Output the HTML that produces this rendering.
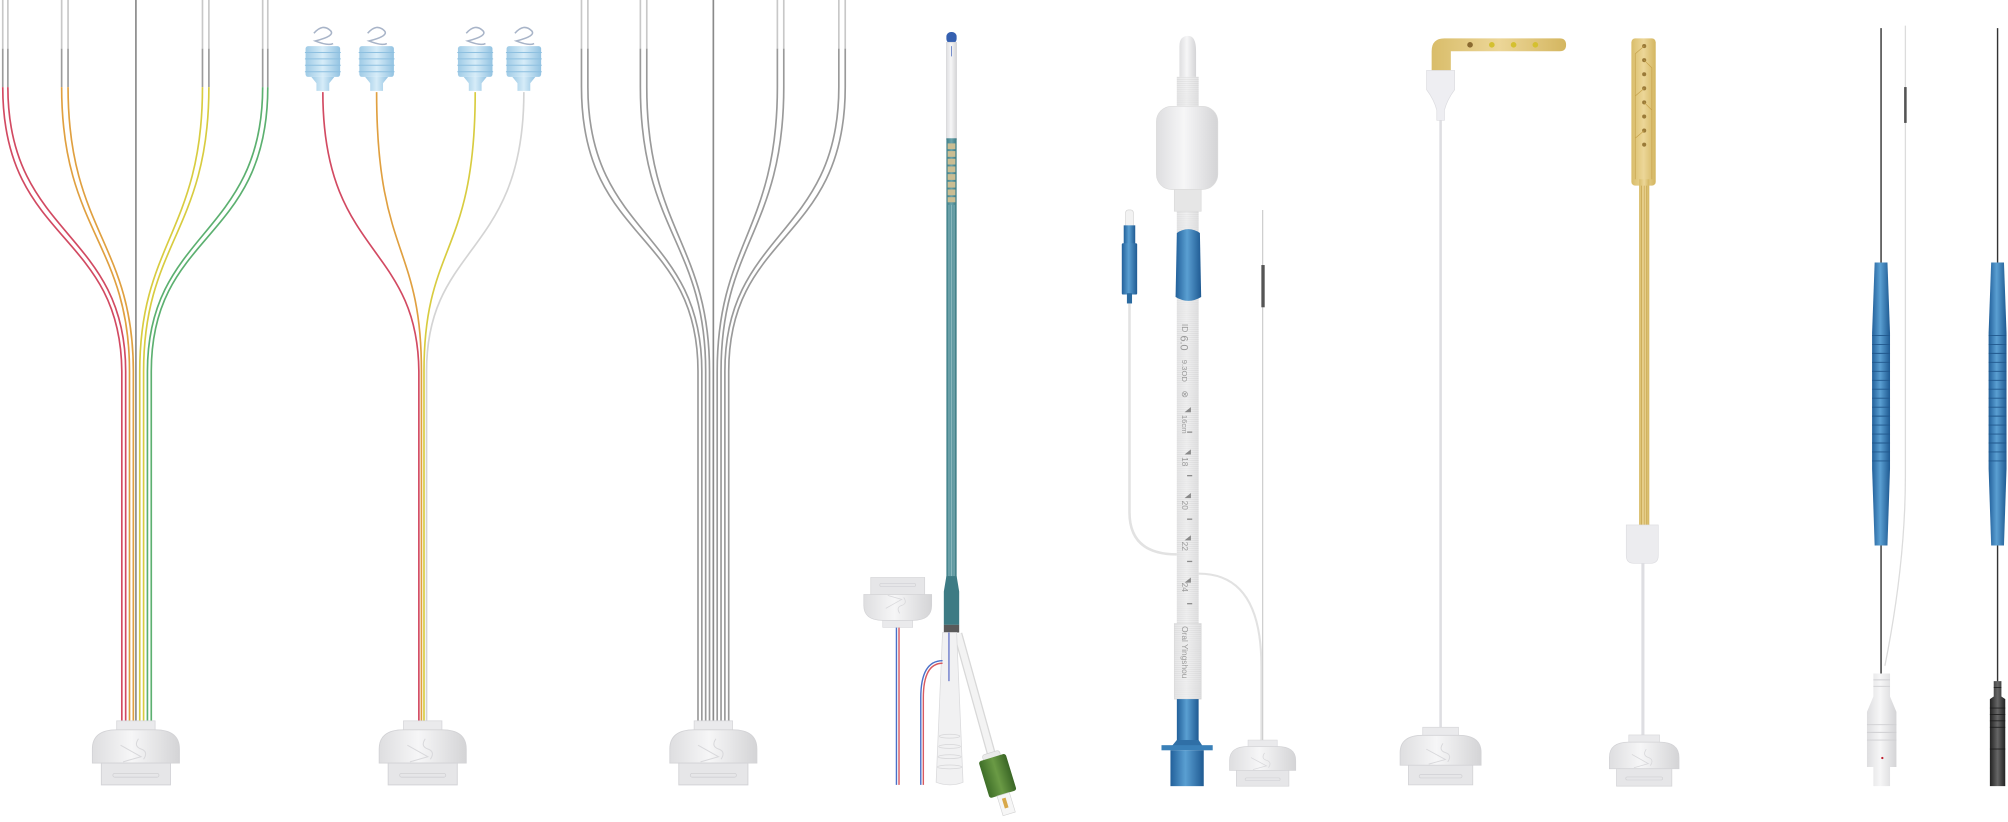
<!DOCTYPE html>
<html><head><meta charset="utf-8"><style>
html,body{margin:0;padding:0;background:#fff;}
svg{display:block;}
text{font-family:"Liberation Sans",sans-serif;}
</style></head><body>
<svg width="2008" height="822" viewBox="0 0 1568 642" xmlns="http://www.w3.org/2000/svg">
<defs>
<linearGradient id="wg" x1="0" x2="1"><stop offset="0" stop-color="#dedee0"/><stop offset=".45" stop-color="#f6f6f7"/><stop offset="1" stop-color="#d4d4d6"/></linearGradient>
<linearGradient id="bg" x1="0" x2="1"><stop offset="0" stop-color="#22609a"/><stop offset=".45" stop-color="#5a9fd2"/><stop offset="1" stop-color="#1f5a92"/></linearGradient>
<linearGradient id="lbg" x1="0" x2="1"><stop offset="0" stop-color="#9fcbe6"/><stop offset=".5" stop-color="#d6ecf8"/><stop offset="1" stop-color="#93c3e2"/></linearGradient>
<linearGradient id="gg" x1="0" x2="1"><stop offset="0" stop-color="#3e6e28"/><stop offset=".5" stop-color="#6a9a45"/><stop offset="1" stop-color="#3a6626"/></linearGradient>
<linearGradient id="kg" x1="0" x2="1"><stop offset="0" stop-color="#222"/><stop offset=".5" stop-color="#666"/><stop offset="1" stop-color="#222"/></linearGradient>
<linearGradient id="tg" x1="0" x2="1"><stop offset="0" stop-color="#3f7f88"/><stop offset=".5" stop-color="#6aa3ab"/><stop offset="1" stop-color="#3a7880"/></linearGradient>
<linearGradient id="au" x1="0" x2="1"><stop offset="0" stop-color="#d9bd6a"/><stop offset=".5" stop-color="#ecd698"/><stop offset="1" stop-color="#d4b660"/></linearGradient>
<pattern id="rib" width="4" height="1.6" patternUnits="userSpaceOnUse"><rect width="4" height="1.6" fill="#ececec"/><rect y="1.1" width="4" height=".5" fill="#d4d4d4"/></pattern>
<pattern id="ribb" width="4" height="1.6" patternUnits="userSpaceOnUse"><rect width="4" height="1.6" fill="#3a7fb8"/><rect y="1.1" width="4" height=".5" fill="#2a6aa0"/></pattern>
<g id="conn">
 <rect x="-15" y="0" width="30" height="9" fill="#eaeaec" stroke="#d6d6d9" stroke-width=".6"/>
 <path d="M-34 33 L-34 22 Q-34 7 -15 7 L15 7 Q34 7 34 22 L34 33 Z" fill="url(#wg)" stroke="#d3d3d6" stroke-width=".7"/>
 <path d="M-27 33 L27 33 L27 50 L-27 50 Z" fill="#e6e6e8" stroke="#d3d3d6" stroke-width=".7"/>
 <rect x="-18" y="41" width="36" height="3" rx="1.5" fill="none" stroke="#d0d0d3" stroke-width=".6"/>
 <path d="M-12 19 L4 28 L-10 32 M2 14 Q-2 20 4 22 Q10 24 6 30" fill="none" stroke="#d8d8db" stroke-width=".8"/>
</g>
<g id="bulb">
 <path d="M-7 -22 Q0 -30 6 -24 Q10 -20 -6 -16 Q4 -12 8 -14" fill="none" stroke="#a8b4c8" stroke-width="1.2"/>
 <rect x="-13.5" y="-12" width="27" height="24" rx="2" fill="url(#lbg)"/>
 <g stroke="#8ec0e0" stroke-width=".8"><line x1="-14" y1="-7" x2="14" y2="-7"/><line x1="-14" y1="-2" x2="14" y2="-2"/><line x1="-14" y1="3" x2="14" y2="3"/><line x1="-14" y1="8" x2="14" y2="8"/></g>
 <path d="M-9 12 L9 12 L5 17 L5 23 L-5 23 L-5 17 Z" fill="url(#lbg)"/>
</g>
</defs>

<!-- ===== Group 1 ===== -->
<g fill="none" stroke-width="1.3">
 <g stroke="#c8c8c8"><line x1="2" y1="0" x2="2" y2="38"/><line x1="6" y1="0" x2="6" y2="38"/><line x1="48" y1="0" x2="48" y2="38"/><line x1="53" y1="0" x2="53" y2="38"/><line x1="158" y1="0" x2="158" y2="38"/><line x1="163" y1="0" x2="163" y2="38"/><line x1="205" y1="0" x2="205" y2="38"/><line x1="209" y1="0" x2="209" y2="38"/></g>
 <g stroke="#9c9c9c"><line x1="2" y1="38" x2="2" y2="68"/><line x1="6" y1="38" x2="6" y2="68"/><line x1="48" y1="38" x2="48" y2="68"/><line x1="53" y1="38" x2="53" y2="68"/><line x1="158" y1="38" x2="158" y2="68"/><line x1="163" y1="38" x2="163" y2="68"/><line x1="205" y1="38" x2="205" y2="68"/><line x1="209" y1="38" x2="209" y2="68"/></g>
 <line x1="106" y1="0" x2="106" y2="565" stroke="#8a8a8a"/>
 <path d="M2 68 C2 190 94 180 95 290 L95 565" stroke="#d24a62"/>
 <path d="M6 68 C6 185 98 180 98 290 L98 565" stroke="#d24a62"/>
 <path d="M48 68 C48 180 101 190 101 290 L101 565" stroke="#e0a040"/>
 <path d="M53 68 C53 180 104 190 104 290 L104 565" stroke="#e0a040"/>
 <path d="M158 68 C158 180 109 190 109 290 L109 565" stroke="#d8cc40"/>
 <path d="M163 68 C163 180 112 190 112 290 L112 565" stroke="#d8cc40"/>
 <path d="M205 68 C205 185 115 180 115 290 L115 565" stroke="#5cb070"/>
 <path d="M209 68 C209 190 118 180 118 290 L118 565" stroke="#5cb070"/>
</g>
<use href="#conn" transform="translate(106,563)"/>

<!-- ===== Group 2 ===== -->
<g fill="none" stroke-width="1.3">
 <path d="M252 72 C252 200 326 190 327 290 L327 565" stroke="#d24a62"/>
 <path d="M294 72 C294 200 329 190 329 290 L329 565" stroke="#e0a040"/>
 <path d="M371 72 C371 200 331 190 331 290 L331 565" stroke="#d8cc40"/>
 <path d="M409 72 C409 200 333 190 333 290 L333 565" stroke="#d4d4d4"/>
</g>
<use href="#bulb" transform="translate(252,48)"/>
<use href="#bulb" transform="translate(294,48)"/>
<use href="#bulb" transform="translate(371,48)"/>
<use href="#bulb" transform="translate(409,48)"/>
<use href="#conn" transform="translate(330,563)"/>

<!-- ===== Group 3 ===== -->
<g fill="none" stroke-width="1.3">
 <g stroke="#c8c8c8"><line x1="454" y1="0" x2="454" y2="38"/><line x1="459" y1="0" x2="459" y2="38"/><line x1="500" y1="0" x2="500" y2="38"/><line x1="505" y1="0" x2="505" y2="38"/><line x1="607" y1="0" x2="607" y2="38"/><line x1="612" y1="0" x2="612" y2="38"/><line x1="655" y1="0" x2="655" y2="38"/><line x1="660" y1="0" x2="660" y2="38"/></g>
 <line x1="557" y1="0" x2="557" y2="565" stroke="#8a8a8a"/>
 <g stroke="#9a9a9a">
 <path d="M454 38 L454 68 C454 190 545 180 545 290 L545 565"/>
 <path d="M459 38 L459 68 C459 185 548 180 548 290 L548 565"/>
 <path d="M500 38 L500 68 C500 180 551 190 551 290 L551 565"/>
 <path d="M505 38 L505 68 C505 180 554 190 554 290 L554 565"/>
 <path d="M607 38 L607 68 C607 180 560 190 560 290 L560 565"/>
 <path d="M612 38 L612 68 C612 180 563 190 563 290 L563 565"/>
 <path d="M655 38 L655 68 C655 185 566 180 566 290 L566 565"/>
 <path d="M660 38 L660 68 C660 190 569 180 569 290 L569 565"/>
 </g>
</g>
<use href="#conn" transform="translate(557,563)"/>

<!-- ===== Group 4 catheter ===== -->
<rect x="739" y="25" width="8" height="9" rx="3.5" fill="#3560b0"/>
<rect x="739" y="33" width="8" height="76" fill="url(#wg)" stroke="#d6d6d8" stroke-width=".5"/>
<line x1="743" y1="36" x2="743" y2="44" stroke="#5070c0" stroke-width=".6"/>
<rect x="739" y="108" width="8" height="344" fill="url(#tg)"/>
<g stroke="#a9cbd0" stroke-width=".4"><line x1="741" y1="160" x2="741" y2="450"/><line x1="743" y1="160" x2="743" y2="450"/><line x1="745" y1="160" x2="745" y2="450"/></g>
<g fill="#cbbd92">
 <rect x="740" y="112" width="6" height="4.5"/><rect x="740" y="118" width="6" height="4.5"/><rect x="740" y="124" width="6" height="4.5"/><rect x="740" y="130" width="6" height="4.5"/><rect x="740" y="136" width="6" height="4.5"/><rect x="740" y="142" width="6" height="4.5"/><rect x="740" y="148" width="6" height="4.5"/><rect x="740" y="154" width="6" height="4"/>
</g>
<path d="M739 450 L747 450 L749 462 L749 488 L737 488 L737 462 Z" fill="#3d7b84"/>
<rect x="737" y="488" width="12" height="6" fill="#5a5a5a"/>
<!-- angled tube -->
<line x1="748" y1="495" x2="775" y2="592" stroke="#d8d8d8" stroke-width="7"/>
<line x1="748" y1="495" x2="775" y2="592" stroke="#f3f3f3" stroke-width="5"/>
<!-- funnel -->
<path d="M736 494 L747 494 L752 611 Q742 615 731 611 Z" fill="#f1f1f2" stroke="#dadadc" stroke-width=".6"/>
<g fill="none" stroke="#d6d6d8" stroke-width=".6"><ellipse cx="741.5" cy="575" rx="8" ry="1.5"/><ellipse cx="741.5" cy="583" rx="8.5" ry="1.5"/><ellipse cx="741.5" cy="591" rx="9" ry="1.5"/><ellipse cx="741.5" cy="599" rx="9.5" ry="1.5"/></g>
<line x1="741" y1="494" x2="741" y2="532" stroke="#6070c8" stroke-width="1"/>
<!-- green -->
<g transform="translate(779,606) rotate(-17)">
 <rect x="-7" y="-19" width="14" height="5" rx="2" fill="#eaeaea" stroke="#d0d0d0" stroke-width=".5"/>
 <rect x="-11" y="-15" width="22" height="30" rx="2" fill="url(#gg)"/>
 <rect x="-5" y="15" width="10" height="16" fill="#f6f6f6" stroke="#d4d4d4" stroke-width=".5"/>
 <rect x="-2" y="18" width="3" height="8" fill="#d8a84a"/>
</g>
<!-- red/blue cables -->
<g fill="none" stroke-width="1.1">
 <line x1="700" y1="490" x2="700" y2="613" stroke="#4a70c8"/>
 <line x1="702" y1="490" x2="702" y2="613" stroke="#d85a60"/>
 <path d="M736 516 Q719 516 719 545 L719 613" stroke="#4a70c8"/>
 <path d="M736 518 Q721 518 721 545 L721 613" stroke="#d85a60"/>
</g>
<g transform="translate(701,490) scale(0.78,-0.78)"><use href="#conn" transform="translate(0,0)"/></g>

<!-- ===== Group 5 ET tube ===== -->
<path d="M882 237 L882 400 Q882 433 919 433" fill="none" stroke="#e2e2e2" stroke-width="2"/>
<path d="M936 448 Q985 448 985 520 L985 580" fill="none" stroke="#e2e2e2" stroke-width="1.6"/>
<line x1="986" y1="164" x2="986" y2="580" stroke="#cfcfcf" stroke-width="1"/>
<rect x="985" y="207" width="2.6" height="33" fill="#555"/>
<!-- pilot -->
<rect x="879" y="164" width="6" height="14" rx="2" fill="#f2f2f2" stroke="#d0d0d0" stroke-width=".5"/>
<rect x="877.5" y="176" width="9" height="20" fill="url(#bg)"/>
<rect x="876" y="190" width="12" height="40" rx="1" fill="url(#bg)"/>
<rect x="880" y="229" width="4" height="8" fill="#2a6aa0"/>
<!-- tube -->
<path d="M921 83 L921 36 Q921 28 928 28 Q934 28 934 40 L934 83 Z" fill="url(#wg)"/>
<rect x="919" y="60" width="17" height="430" fill="url(#rib)"/>
<rect x="919" y="60" width="17" height="430" fill="url(#wg)" opacity=".45"/>
<rect x="903" y="83" width="48" height="65" rx="12" fill="url(#wg)" stroke="#dcdcdc" stroke-width=".5"/>
<rect x="917" y="148" width="21" height="17" fill="#e6e6e6" stroke="#dadada" stroke-width=".5"/>
<path d="M919 182 Q928 176 937 182 L938 232 Q928 238 918 232 Z" fill="url(#bg)"/>
<g fill="#9a9a9a" font-size="6.5">
 <text transform="translate(923,253) rotate(90)">ID</text>
 <text transform="translate(922,262) rotate(90)" font-size="8.5">6.0</text>
 <text transform="translate(923,281) rotate(90)" font-size="6">9.3OD</text>
 <text transform="translate(923,305) rotate(90)" font-size="7">⊗</text>
 <text transform="translate(923,324) rotate(90)" font-size="6">16cm</text>
 <text transform="translate(923,357) rotate(90)">18</text>
 <text transform="translate(923,391) rotate(90)">20</text>
 <text transform="translate(923,423) rotate(90)">22</text>
 <text transform="translate(923,455) rotate(90)">24</text>
</g>
<g fill="#8a8a8a">
 <path d="M925 322 L930 322 L930 318 Z"/><path d="M925 355 L930 355 L930 351 Z"/><path d="M925 389 L930 389 L930 385 Z"/><path d="M925 422 L930 422 L930 418 Z"/><path d="M925 455 L930 455 L930 451 Z"/>
 <rect x="927" y="337" width="4" height="1"/><rect x="927" y="371" width="4" height="1"/><rect x="927" y="405" width="4" height="1"/><rect x="927" y="438" width="4" height="1"/><rect x="927" y="471" width="4" height="1"/>
</g>
<rect x="917" y="487" width="21" height="59" fill="url(#rib)" stroke="#d6d6d6" stroke-width=".5"/>
<rect x="917" y="487" width="21" height="59" fill="url(#wg)" opacity=".5"/>
<text transform="translate(923,489) rotate(90)" font-size="6.5" fill="#9a9a9a">Oral Yingshou</text>
<rect x="919" y="546" width="17" height="38" fill="url(#bg)"/>
<path d="M919 578 L914 584 L940 584 L936 578 Z" fill="#2f6fa6"/>
<rect x="907" y="582" width="40" height="4" fill="#3a80b8"/>
<rect x="914" y="586" width="26" height="28" fill="url(#bg)"/>
<use href="#conn" transform="translate(986,578) scale(0.76,0.72)"/>

<!-- ===== Group 6 ===== -->
<line x1="1125" y1="94" x2="1125" y2="572" stroke="#dedee2" stroke-width="2"/>
<path d="M1118 57 L1118 40 Q1118 30 1128 30 L1218 30 Q1223 30 1223 35 Q1223 40 1218 40 L1133 40 L1133 57 Z" fill="url(#au)"/>
<g><circle cx="1148" cy="35" r="2.2" fill="#8a6a30"/><circle cx="1165" cy="35" r="2.2" fill="#d4c030"/><circle cx="1182" cy="35" r="2.2" fill="#d4c030"/><circle cx="1199" cy="35" r="2.2" fill="#d4c030"/></g>
<path d="M1114 55 L1136 55 L1136 70 Q1130 78 1128 86 L1128 94 L1122 94 L1122 86 Q1120 78 1114 70 Z" fill="#eeeef2" stroke="#dcdce0" stroke-width=".5"/>
<use href="#conn" transform="translate(1125,568) scale(0.93,0.9)"/>

<!-- gold strip -->
<rect x="1274" y="30" width="19" height="115" rx="3" fill="url(#au)"/>
<rect x="1280" y="140" width="8" height="272" fill="url(#au)"/>
<g stroke="#c4a048" stroke-width=".5"><line x1="1282" y1="145" x2="1282" y2="410"/><line x1="1284" y1="145" x2="1284" y2="410"/><line x1="1286" y1="145" x2="1286" y2="410"/></g>
<g fill="#9a7a38"><circle cx="1284" cy="36" r="1.6"/><circle cx="1284" cy="47" r="1.6"/><circle cx="1284" cy="58" r="1.6"/><circle cx="1284" cy="69" r="1.6"/><circle cx="1284" cy="80" r="1.6"/><circle cx="1284" cy="91" r="1.6"/><circle cx="1284" cy="102" r="1.6"/><circle cx="1284" cy="113" r="1.6"/></g>
<g fill="none" stroke="#c4a048" stroke-width=".5"><path d="M1284 36 L1277 42 L1277 140"/><path d="M1284 47 L1290 53 L1290 140"/><path d="M1284 69 L1277 75"/><path d="M1284 80 L1290 86"/><path d="M1284 102 L1277 108"/></g>
<path d="M1270 410 L1295 410 L1295 434 Q1295 440 1289 440 L1276 440 Q1270 440 1270 434 Z" fill="#ececef" stroke="#dcdce0" stroke-width=".5"/>
<line x1="1283" y1="440" x2="1283" y2="576" stroke="#dedee2" stroke-width="2.4"/>
<use href="#conn" transform="translate(1284,574) scale(0.8,0.8)"/>

<!-- ===== Group 7 probes ===== -->
<path d="M1488 20 L1488 372 Q1488 440 1472 520" fill="none" stroke="#dcdcdc" stroke-width="1"/>
<rect x="1487" y="68" width="2" height="28" fill="#555"/>
<line x1="1469" y1="22" x2="1469" y2="528" stroke="#333" stroke-width="1.1"/>
<line x1="1560" y1="22" x2="1560" y2="534" stroke="#333" stroke-width="1.1"/>
<g>
 <path d="M1464 205 L1474 205 L1476 260 L1476 366 L1474 426 L1464 426 L1462 366 L1462 260 Z" fill="url(#bg)"/>
 <g stroke="#20578c" stroke-width=".7"><line x1="1462" y1="262" x2="1476" y2="262"/><line x1="1462" y1="269" x2="1476" y2="269"/><line x1="1462" y1="276" x2="1476" y2="276"/><line x1="1462" y1="283" x2="1476" y2="283"/><line x1="1462" y1="290" x2="1476" y2="290"/><line x1="1462" y1="297" x2="1476" y2="297"/><line x1="1462" y1="304" x2="1476" y2="304"/><line x1="1462" y1="311" x2="1476" y2="311"/><line x1="1462" y1="318" x2="1476" y2="318"/><line x1="1462" y1="325" x2="1476" y2="325"/><line x1="1462" y1="332" x2="1476" y2="332"/><line x1="1462" y1="339" x2="1476" y2="339"/><line x1="1462" y1="346" x2="1476" y2="346"/><line x1="1462" y1="353" x2="1476" y2="353"/><line x1="1462" y1="360" x2="1476" y2="360"/></g>
</g>
<g transform="translate(91,0)">
 <path d="M1464 205 L1474 205 L1476 260 L1476 366 L1474 426 L1464 426 L1462 366 L1462 260 Z" fill="url(#bg)"/>
 <g stroke="#20578c" stroke-width=".7"><line x1="1462" y1="262" x2="1476" y2="262"/><line x1="1462" y1="269" x2="1476" y2="269"/><line x1="1462" y1="276" x2="1476" y2="276"/><line x1="1462" y1="283" x2="1476" y2="283"/><line x1="1462" y1="290" x2="1476" y2="290"/><line x1="1462" y1="297" x2="1476" y2="297"/><line x1="1462" y1="304" x2="1476" y2="304"/><line x1="1462" y1="311" x2="1476" y2="311"/><line x1="1462" y1="318" x2="1476" y2="318"/><line x1="1462" y1="325" x2="1476" y2="325"/><line x1="1462" y1="332" x2="1476" y2="332"/><line x1="1462" y1="339" x2="1476" y2="339"/><line x1="1462" y1="346" x2="1476" y2="346"/><line x1="1462" y1="353" x2="1476" y2="353"/><line x1="1462" y1="360" x2="1476" y2="360"/></g>
</g>
<!-- white connector -->
<path d="M1463 526 L1476 526 L1476 544 L1481 556 L1481 599 L1476 599 L1476 614 L1463 614 L1463 599 L1458 599 L1458 556 L1463 544 Z" fill="url(#wg)"/>
<g stroke="#cfcfd2" stroke-width=".7"><line x1="1463" y1="531" x2="1476" y2="531"/><line x1="1463" y1="536" x2="1476" y2="536"/><line x1="1458" y1="566" x2="1481" y2="566"/><line x1="1458" y1="572" x2="1481" y2="572"/><line x1="1458" y1="578" x2="1481" y2="578"/></g>
<circle cx="1470" cy="592" r=".9" fill="#c02030"/>
<!-- black connector -->
<path d="M1557 532 L1563 532 L1563 544 L1566 546 L1566 614 L1554 614 L1554 546 L1557 544 Z" fill="url(#kg)"/>
<g stroke="#1a1a1a" stroke-width=".6"><line x1="1554" y1="553" x2="1566" y2="553"/><line x1="1554" y1="558" x2="1566" y2="558"/><line x1="1554" y1="563" x2="1566" y2="563"/><line x1="1554" y1="568" x2="1566" y2="568"/><line x1="1554" y1="585" x2="1566" y2="585"/><line x1="1557" y1="537" x2="1563" y2="537"/></g>
</svg>
</body></html>
